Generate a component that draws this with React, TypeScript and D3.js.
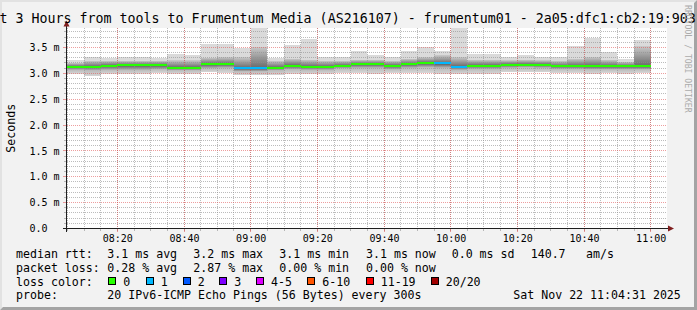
import React from "react";
import * as d3 from "d3";

const W = 697;
const H = 310;

const DAY = "2025-11-22";
const viewStart = "08:04:54";
const viewEnd = "11:04:54";

// 5-minute slots (slot start times)
const slotStart = [
  "08:05", "08:10", "08:15", "08:20", "08:25", "08:30", "08:35", "08:40", "08:45", "08:50",
  "08:55", "09:00", "09:05", "09:10", "09:15", "09:20", "09:25", "09:30", "09:35", "09:40",
  "09:45", "09:50", "09:55", "10:00", "10:05", "10:10", "10:15", "10:20", "10:25", "10:30",
  "10:35", "10:40", "10:45", "10:50", "10:55",
];
// ms values
const pingMax = [3.26, 3.31, 3.30, 3.32, 3.32, 3.30, 3.37, 3.35, 3.57, 3.57, 3.48, 3.88, 3.29, 3.55, 3.67, 3.31, 3.31, 3.43, 3.35, 3.31, 3.44, 3.51, 3.44, 3.88, 3.38, 3.37, 3.31, 3.35, 3.31, 3.31, 3.52, 3.68, 3.42, 3.28, 3.65];
const pingHi = [3.20, 3.24, 3.24, 3.24, 3.24, 3.24, 3.25, 3.25, 3.30, 3.31, 3.31, 3.51, 3.24, 3.28, 3.26, 3.24, 3.24, 3.26, 3.26, 3.24, 3.28, 3.31, 3.35, 3.31, 3.26, 3.26, 3.25, 3.26, 3.25, 3.24, 3.28, 3.31, 3.26, 3.22, 3.52];
const medianRtt = [3.13, 3.13, 3.15, 3.16, 3.16, 3.16, 3.11, 3.11, 3.18, 3.18, 3.10, 3.10, 3.11, 3.15, 3.13, 3.13, 3.15, 3.18, 3.18, 3.15, 3.18, 3.20, 3.19, 3.13, 3.15, 3.15, 3.17, 3.17, 3.17, 3.14, 3.14, 3.14, 3.14, 3.14, 3.14];
const pingLo = [3.07, 3.06, 3.07, 3.07, 3.07, 3.08, 3.06, 3.06, 3.10, 3.11, 3.04, 3.04, 3.06, 3.08, 3.07, 3.07, 3.10, 3.11, 3.11, 3.08, 3.11, 3.12, 3.11, 3.07, 3.09, 3.09, 3.11, 3.12, 3.11, 3.09, 3.09, 3.08, 3.08, 3.08, 3.08];
const pingMin = [2.99, 2.94, 2.99, 2.98, 2.99, 3.01, 2.99, 2.99, 3.02, 3.01, 2.96, 2.96, 2.96, 2.99, 2.98, 2.99, 3.01, 3.01, 2.99, 3.01, 3.01, 3.01, 2.98, 2.99, 2.99, 2.99, 3.02, 3.02, 3.02, 3.01, 3.01, 2.99, 3.01, 2.99, 3.01];
const lossCount = [0, 0, 0, 0, 0, 0, 0, 0, 0, 0, 1, 1, 0, 0, 0, 0, 0, 0, 0, 0, 0, 0, 1, 1, 0, 0, 0, 0, 0, 0, 0, 0, 0, 0, 0];

const yTicks = [0, 0.5, 1.0, 1.5, 2.0, 2.5, 3.0, 3.5];
const yTickLabels = ["0.0", "0.5 m", "1.0 m", "1.5 m", "2.0 m", "2.5 m", "3.0 m", "3.5 m"];

const lossLabels = ["0", "1", "2", "3", "4-5", "6-10", "11-19", "20/20"];
const lossColors = ["#26ff00", "#00b8ff", "#0059ff", "#7e00ff", "#dd00ff", "#ff5500", "#ff0000", "#a00000"];
const lossBoxX = [108.3, 145.7, 182.7, 219.3, 256, 307.3, 365.7, 430.7];

const rttStats = ["3.1 ms avg", "3.2 ms max", "3.1 ms min", "3.1 ms now", "0.0 ms sd", "140.7", "am/s"];
const lossStats = ["0.28 % avg", "2.87 % max", "0.00 % min", "0.00 % now"];
const statX = [107.3, 193.3, 279.3, 366, 451.7, 530.7, 586];

// visible part of the (wider than the image) centred title
const titleText = "t 3 Hours from tools to Frumentum Media (AS216107) - frumentum01 - 2a05:dfc1:cb2:19:903";
const probeText = "20 IPv6-ICMP Echo Pings (56 Bytes) every 300s";
const dateText = "Sat Nov 22 11:04:31 2025";

const FONT = "'DejaVu Sans Mono', monospace";

function lossIndex(n: number) {
  if (n <= 3) return n;
  if (n <= 5) return 4;
  if (n <= 10) return 5;
  if (n <= 19) return 6;
  return 7;
}

export default function App() {
  const pHM = d3.timeParse("%Y-%m-%d %H:%M");
  const pHMS = d3.timeParse("%Y-%m-%d %H:%M:%S");
  const t0 = pHMS(`${DAY} ${viewStart}`) as Date;
  const t1 = pHMS(`${DAY} ${viewEnd}`) as Date;

  const L = 67, R = 667, T = 28, B = 228.5;
  const x = d3.scaleTime().domain([t0, t1]).range([L, R]);
  const y = d3.scaleLinear().domain([0, 3.868]).range([B, T + 0.4]);
  const snap = (v: number) => Math.floor(v) + 0.5;

  const bars = slotStart.map((s, i) => {
    const st = pHM(`${DAY} ${s}`) as Date;
    const en = d3.timeMinute.offset(st, 5);
    return {
      x0: Math.round(x(st)),
      x1: Math.round(x(en)),
      max: pingMax[i], hi: pingHi[i], med: medianRtt[i], lo: pingLo[i], min: pingMin[i],
      color: lossColors[lossIndex(lossCount[i])],
    };
  });

  const minorX = x.ticks(d3.timeMinute.every(5) as any);
  const majorX = x.ticks(d3.timeMinute.every(20) as any);
  const fmt = d3.timeFormat("%H:%M");

  const minorY = d3.range(1, 39).map((k) => k / 10).filter((v) => Math.abs(v * 2 - Math.round(v * 2)) > 1e-6);
  const majorY = yTicks.filter((v) => v > 0);

  const gridMinor = "rgba(143,143,143,0.6)";
  const gridMajor = "rgba(222,79,79,0.55)";

  const axisY = 228.5;
  const axisX = 66.5;

  return (
    <svg width={W} height={H} style={{ position: "absolute", left: 0, top: 0 }} fontFamily={FONT}>
      <defs>
        <linearGradient id="gUp" x1="0" y1="0" x2="0" y2="1">
          <stop offset="0" stopColor="#c8c8c8" />
          <stop offset="1" stopColor="#6a6a6a" />
        </linearGradient>
        <linearGradient id="gDown" x1="0" y1="0" x2="0" y2="1">
          <stop offset="0" stopColor="#555555" />
          <stop offset="1" stopColor="#b2b2b2" />
        </linearGradient>
        <linearGradient id="gBot" x1="0" y1="0" x2="0" y2="1">
          <stop offset="0" stopColor="#bababa" />
          <stop offset="1" stopColor="#d6d6d6" />
        </linearGradient>
        <clipPath id="plotClip">
          <rect x={L} y={T} width={R - L} height={B - T} />
        </clipPath>
      </defs>

      {/* background and frame shading */}
      <rect x={0} y={0} width={W} height={H} fill="#f2f2f2" />
      <polygon points={`0,0 ${W},0 ${W - 2},2 2,2 2,${H - 2} 0,${H}`} fill="#e2e2e2" />
      <polygon points={`0,${H} ${W},${H} ${W},0 ${W - 3},3 ${W - 3},${H - 3} 3,${H - 3}`} fill="#a4a4a4" />

      {/* canvas */}
      <rect x={L} y={T} width={R - L} height={B - T} fill="#ffffff" />

      {/* smoke */}
      <g clipPath="url(#plotClip)" shapeRendering="crispEdges">
        {bars.map((b, i) => (
          <g key={i}>
            <rect x={b.x0} y={y(b.max)} width={b.x1 - b.x0} height={y(b.hi) - y(b.max)} fill="#dadada" />
            <rect x={b.x0} y={y(b.hi)} width={b.x1 - b.x0} height={y(b.med) - y(b.hi)} fill="url(#gUp)" />
            <rect x={b.x0} y={y(b.med)} width={b.x1 - b.x0} height={y(b.lo) - y(b.med)} fill="url(#gDown)" />
            <rect x={b.x0} y={y(b.lo)} width={b.x1 - b.x0} height={y(b.min) - y(b.lo)} fill="url(#gBot)" />
          </g>
        ))}
      </g>

      {/* grid */}
      <g shapeRendering="crispEdges" strokeWidth={1}>
        {minorY.map((v, i) => (
          <line key={"my" + i} x1={L} x2={R} y1={snap(y(v))} y2={snap(y(v))} stroke={gridMinor} strokeDasharray="1,1" />
        ))}
        {minorX.map((t, i) => (
          <line key={"mx" + i} x1={snap(x(t))} x2={snap(x(t))} y1={T} y2={B} stroke={gridMinor} strokeDasharray="1,1" />
        ))}
        {majorY.map((v, i) => (
          <line key={"My" + i} x1={L} x2={R} y1={snap(y(v))} y2={snap(y(v))} stroke={gridMajor} strokeDasharray="1,1" />
        ))}
        {majorX.map((t, i) => (
          <line key={"Mx" + i} x1={snap(x(t))} x2={snap(x(t))} y1={T} y2={B} stroke={gridMajor} strokeDasharray="1,1" />
        ))}
        {/* ticks */}
        {minorY.map((v, i) => (
          <line key={"ty" + i} x1={64} x2={67} y1={snap(y(v))} y2={snap(y(v))} stroke={gridMinor} />
        ))}
        {majorY.map((v, i) => (
          <line key={"tY" + i} x1={63} x2={67} y1={snap(y(v))} y2={snap(y(v))} stroke={gridMajor} />
        ))}
        {minorX.map((t, i) => (
          <line key={"tx" + i} x1={snap(x(t))} x2={snap(x(t))} y1={229} y2={231} stroke={gridMinor} />
        ))}
        {majorX.map((t, i) => (
          <line key={"tX" + i} x1={snap(x(t))} x2={snap(x(t))} y1={229} y2={232} stroke={gridMajor} />
        ))}
      </g>

      {/* median */}
      <g shapeRendering="crispEdges">
        {bars.map((b, i) => (
          <rect key={i} x={b.x0} y={y(b.med) - 1} width={b.x1 - b.x0} height={2} fill={b.color} />
        ))}
      </g>

      {/* axes */}
      <g shapeRendering="crispEdges">
        <line x1={63} x2={669} y1={axisY} y2={axisY} stroke="#1f1f1f" />
        <line x1={axisX} x2={axisX} y1={232} y2={25} stroke="#1f1f1f" />
      </g>
      <polygon points={`${axisX - 3},26.5 ${axisX + 3},26.5 ${axisX},20.5`} fill="#801f1f" />
      <polygon points={`668,${axisY - 3} 668,${axisY + 3} 674,${axisY}`} fill="#801f1f" />

      {/* y tick labels */}
      {yTicks.map((v, i) => (
        <text key={"yl" + i} x={29.5} y={y(v) + 3.6} fontSize={10} fill="#000">
          {yTickLabels[i]}
        </text>
      ))}
      {/* x tick labels */}
      {majorX.map((t, i) => (
        <text key={"xl" + i} x={x(t) + 0.5} y={242} fontSize={10} textAnchor="middle" fill="#000">
          {fmt(t)}
        </text>
      ))}

      {/* y axis title */}
      <text transform="translate(15,128.3) rotate(-90)" textAnchor="middle" fontSize={11.6} fill="#000">
        Seconds
      </text>

      {/* title */}
      <text x={-0.6} y={23} fontSize={13.3} fill="#000">{titleText}</text>

      {/* watermark */}
      <text transform="translate(685,5) rotate(90)" fontSize={8.15} fill="#ababab">
        RRDTOOL / TOBI OETIKER
      </text>

      {/* legend */}
      <g fontSize={11.6} fill="#000">
        <text x={16} y={258.3}>median rtt:</text>
        {rttStats.map((s, i) => (
          <text key={"r" + i} x={statX[i]} y={258.3}>{s}</text>
        ))}
        <text x={16} y={271.9}>packet loss:</text>
        {lossStats.map((s, i) => (
          <text key={"l" + i} x={statX[i]} y={271.9}>{s}</text>
        ))}
        <text x={16} y={285.5}>loss color:</text>
        {lossLabels.map((s, i) => (
          <g key={"c" + i}>
            <rect x={Math.round(lossBoxX[i]) + 0.5} y={277.5} width={7} height={7} fill={lossColors[i]} stroke="#000" strokeWidth={1} shapeRendering="crispEdges" />
            <text x={lossBoxX[i] + 15} y={285.5}>{s}</text>
          </g>
        ))}
        <text x={16} y={299.2}>probe:</text>
        <text x={107.3} y={299.2}>{probeText}</text>
        <text x={513.3} y={299.2}>{dateText}</text>
      </g>
    </svg>
  );
}
